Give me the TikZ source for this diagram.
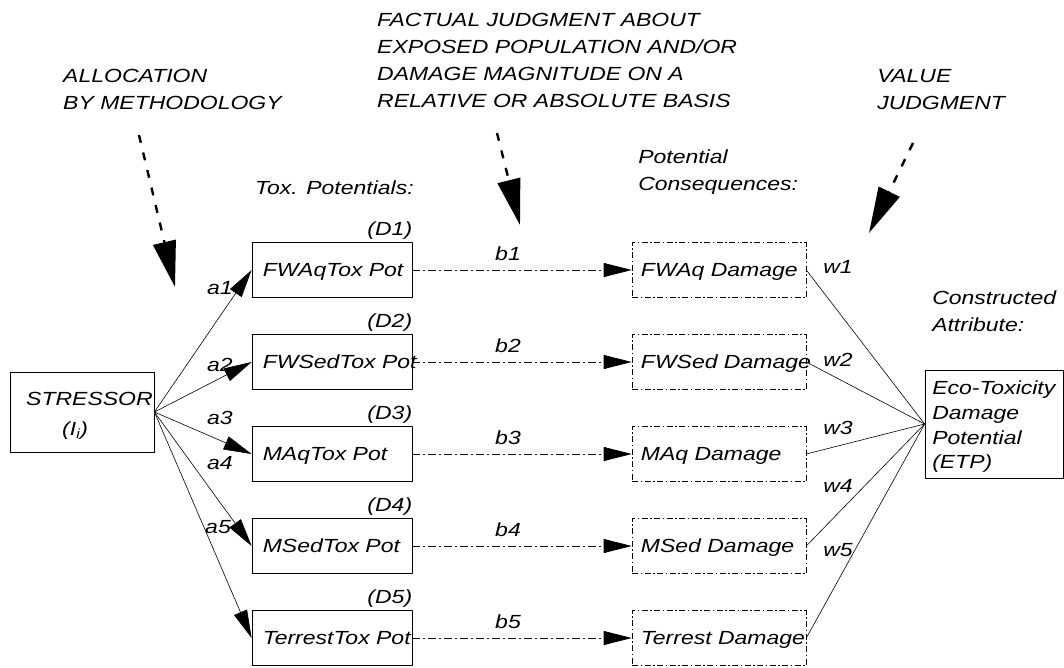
\documentclass[tikz,border=0pt]{standalone}
\usepackage{fontspec}
\setmainfont{Liberation Sans}
\usetikzlibrary{arrows.meta,positioning,calc}
\tikzset{
  >={Triangle[length=28pt,width=14pt]},
  every node/.style={font=\fontsize{19pt}{27pt}\selectfont\itshape,inner sep=0pt},
  txt/.style={xscale=1.21},                 % stretched text, as in the figure
  potbox/.style={draw,line width=0.8pt,minimum width=160pt,minimum height=55pt},
  dmgbox/.style={draw,line width=0.6pt,dash pattern=on 6pt off 2.5pt on 1.5pt off 2.5pt,
                 minimum width=174pt,minimum height=55pt},
  fan/.style={->,line width=0.6pt},
  flow/.style={->,line width=0.6pt,dash pattern=on 8pt off 3pt on 2pt off 3pt},
  wline/.style={line width=0.6pt},
  judge/.style={-{Triangle[length=46pt,width=23pt]},line width=2.4pt,dash pattern=on 8pt off 10pt},
}

\begin{document}
\begin{tikzpicture}[x=1pt,y=-1pt]
  \useasboundingbox (0,0) rectangle (1064,668);

  % judgments at the top
  \node[txt,anchor=west,align=left] (alloc) at (63,89.5) {ALLOCATION\\BY METHODOLOGY};
  \node[txt,anchor=west,align=left] (fact) at (377,60.5)
    {FACTUAL JUDGMENT ABOUT\\EXPOSED POPULATION AND/OR\\DAMAGE MAGNITUDE ON A\\RELATIVE OR ABSOLUTE BASIS};
  \node[txt,anchor=west,align=left] (value) at (877,89.5) {VALUE\\JUDGMENT};

  \coordinate (allocfrom) at (139,135);  \coordinate (allocto) at (175,287);
  \coordinate (factfrom)  at (497,133);  \coordinate (factto)  at (520,225);
  \coordinate (valuefrom) at (913,143);  \coordinate (valueto) at (869,233);
  \draw[judge] (allocfrom) -- (allocto);
  \draw[judge] (factfrom) -- (factto);
  \draw[judge] (valuefrom) -- (valueto);

  % column heads
  \node[txt,anchor=west] (toxhead) at (255,188) {Tox. Potentials:};
  \node[txt,anchor=west,align=left] (conshead) at (638,172) {Potential\\Consequences:};
  \node[txt,anchor=west,align=left] (attrhead) at (932,311.5) {Constructed\\Attribute:};

  % stressor
  \node[draw,line width=0.8pt,minimum width=144pt,minimum height=80pt] (str) at (82,412) {};
  \node[txt,anchor=base west] (strtxt) at (26,405.5) {STRESSOR};
  \node[txt,anchor=base west] (stri) at (62,435) {(I\textsubscript{i})};

  % potentials (rows, pitch 92 pt)
  \node[potbox] (pot1) at (332,270) {};
  \node[potbox] (pot2) at (332,362) {};
  \node[potbox] (pot3) at (332,454) {};
  \node[potbox] (pot4) at (332,546) {};
  \node[potbox] (pot5) at (332,638) {};
  \node[txt,anchor=base west] (pottxt1) at ([shift={(11,6.8)}]pot1.west) {FWAqTox Pot};
  \node[txt,anchor=base west] (pottxt2) at ([shift={(11,6.8)}]pot2.west) {FWSedTox Pot};
  \node[txt,anchor=base west] (pottxt3) at ([shift={(11,6.8)}]pot3.west) {MAqTox Pot};
  \node[txt,anchor=base west] (pottxt4) at ([shift={(11,6.8)}]pot4.west) {MSedTox Pot};
  \node[txt,anchor=base west] (pottxt5) at ([shift={(11,6.8)}]pot5.west) {TerrestTox Pot};
  \node[txt,anchor=base east] (d1) at ([shift={(0,-6.5)}]pot1.north east) {(D1)};
  \node[txt,anchor=base east] (d2) at ([shift={(0,-6.5)}]pot2.north east) {(D2)};
  \node[txt,anchor=base east] (d3) at ([shift={(0,-6.5)}]pot3.north east) {(D3)};
  \node[txt,anchor=base east] (d4) at ([shift={(0,-6.5)}]pot4.north east) {(D4)};
  \node[txt,anchor=base east] (d5) at ([shift={(0,-6.5)}]pot5.north east) {(D5)};

  % damages
  \node[dmgbox] (dmg1) at (719,270) {};
  \node[dmgbox] (dmg2) at (719,362) {};
  \node[dmgbox] (dmg3) at (719,454) {};
  \node[dmgbox] (dmg4) at (719,546) {};
  \node[dmgbox] (dmg5) at (719,638) {};
  \node[txt,anchor=base west] (dmgtxt1) at ([shift={(9,6.8)}]dmg1.west) {FWAq Damage};
  \node[txt,anchor=base west] (dmgtxt2) at ([shift={(9,6.8)}]dmg2.west) {FWSed Damage};
  \node[txt,anchor=base west] (dmgtxt3) at ([shift={(9,6.8)}]dmg3.west) {MAq Damage};
  \node[txt,anchor=base west] (dmgtxt4) at ([shift={(9,6.8)}]dmg4.west) {MSed Damage};
  \node[txt,anchor=base west] (dmgtxt5) at ([shift={(9,6.8)}]dmg5.west) {Terrest Damage};

  % constructed attribute
  \node[draw,line width=0.8pt,minimum width=138pt,minimum height=108pt] (etp) at (994,424) {};
  \node[txt,anchor=west,align=left,font=\fontsize{19pt}{24.7pt}\selectfont\itshape] (etptxt)
    at (932,427) {Eco-Toxicity\\Damage\\Potential\\(ETP)};

  % stressor -> potentials
  \draw[fan] (str.east) -- (pot1.west);
  \draw[fan] (str.east) -- (pot2.west);
  \draw[fan] (str.east) -- (pot3.west);
  \draw[fan] (str.east) -- (pot4.west);
  \draw[fan] (str.east) -- (pot5.west);
  \node[txt] (la1) at (220,288) {a1};
  \node[txt] (la2) at (220,365) {a2};
  \node[txt] (la3) at (220,418) {a3};
  \node[txt] (la4) at (220,463) {a4};
  \node[txt] (la5) at (218,527) {a5};

  % potentials -> damages
  \draw[flow] (pot1) -- node[txt,pos=0.436,anchor=base,yshift=9.5pt] (lb1) {b1} (dmg1);
  \draw[flow] (pot2) -- node[txt,pos=0.436,anchor=base,yshift=9.5pt] (lb2) {b2} (dmg2);
  \draw[flow] (pot3) -- node[txt,pos=0.436,anchor=base,yshift=9.5pt] (lb3) {b3} (dmg3);
  \draw[flow] (pot4) -- node[txt,pos=0.436,anchor=base,yshift=9.5pt] (lb4) {b4} (dmg4);
  \draw[flow] (pot5) -- node[txt,pos=0.436,anchor=base,yshift=9.5pt] (lb5) {b5} (dmg5);

  % damages -> ETP
  \draw[wline] (dmg1.east) -- (etp.west);
  \draw[wline] (dmg2.east) -- (etp.west);
  \draw[wline] (dmg3.east) -- (etp.west);
  \draw[wline] (dmg4.east) -- (etp.west);
  \draw[wline] (dmg5.east) -- (etp.west);
  \node[txt] (lw1) at (838,267) {w1};
  \node[txt] (lw2) at (838,360) {w2};
  \node[txt] (lw3) at (838,428) {w3};
  \node[txt] (lw4) at (838,486) {w4};
  \node[txt] (lw5) at (838,550) {w5};
\end{tikzpicture}
\end{document}
